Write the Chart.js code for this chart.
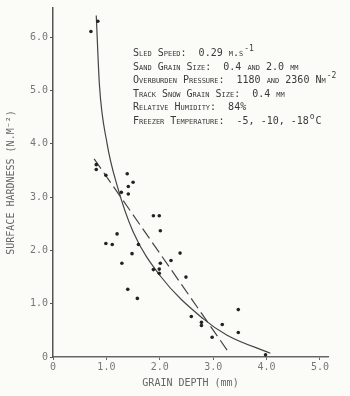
<!DOCTYPE html>
<html>
<head>
<meta charset="utf-8">
<script src="https://cdn.jsdelivr.net/npm/chart.js@4"></script>
<style>
  body { margin: 0; background: #fbfbf8; }
  canvas { display: block; }
</style>
</head>
<body>
<canvas id="hardnessChart" width="350" height="396"></canvas>
<script>
// Measured hardness values (grain depth in mm, hardness in N.m-2)
const depthPoints = [0.71, 0.84, 0.81, 0.81, 0.99, 1.39, 1.41, 1.50, 1.28, 1.41,
  1.88, 1.99, 2.01, 1.20, 0.99, 1.11, 1.60, 1.48, 1.29, 2.01, 2.21, 1.88, 1.99, 1.99,
  2.38, 1.40, 1.58, 2.49, 2.59, 2.78, 2.78, 3.17, 3.47, 3.47, 2.98, 3.98];
const hardnessPoints = [6.11, 6.30, 3.61, 3.52, 3.41, 3.44, 3.20, 3.28, 3.09, 3.06,
  2.65, 2.65, 2.37, 2.31, 2.13, 2.11, 2.11, 1.94, 1.76, 1.76, 1.81, 1.64, 1.65, 1.57,
  1.95, 1.27, 1.10, 1.50, 0.76, 0.65, 0.59, 0.61, 0.89, 0.46, 0.37, 0.04];

// Fitted curve
const curveDepth = [0.81, 0.87, 1.01, 1.20, 1.50, 2.01, 2.81, 3.26, 4.07];
const curveHardness = [6.41, 5.10, 4.02, 3.22, 2.35, 1.52, 0.72, 0.41, 0.07];

// Straight dashed fit
const lineDepth = [0.77, 3.26];
const lineHardness = [3.72, 0.13];

// Axis ticks
const xTicks = [0, 1, 2, 3, 4, 5];
const yTicks = [0, 1, 2, 3, 4, 5, 6];

// Test conditions text block: [main text, superscript, tail]
const conditionLines = [
  ['Sled Speed:  0.29 m.s', '-1', ''],
  ['Sand Grain Size:  0.4 and 2.0 mm', '', ''],
  ['Overburden Pressure:  1180 and 2360 Nm', '-2', ''],
  ['Track Snow Grain Size:  0.4 mm', '', ''],
  ['Relative Humidity:  84%', '', ''],
  ['Freezer Temperature:  -5, -10, -18', 'o', 'C']
];

const toXY = (xs, ys) => xs.map((x, i) => ({ x: x, y: ys[i] }));

const monoFont = "'DejaVu Sans Mono', monospace";

// Plugin that writes the conditions block in the upper right
const conditionsText = {
  id: 'conditionsText',
  afterDatasetsDraw(chart) {
    const c = chart.ctx;
    c.save();
    c.fillStyle = '#3a3a3a';
    c.textBaseline = 'alphabetic';
    let y = 56;
    conditionLines.forEach(line => {
      let x = 133;
      c.font = 'small-caps 10px ' + monoFont;
      c.fillText(line[0], x, y);
      x += c.measureText(line[0]).width + 1;
      if (line[1]) {
        c.font = '8px ' + monoFont;
        c.fillText(line[1], x, y - 5);
        x += c.measureText(line[1]).width + 1;
      }
      if (line[2]) {
        c.font = 'small-caps 10px ' + monoFont;
        c.fillText(line[2], x, y);
      }
      y += 13.5;
    });
    c.restore();
  }
};

const ctx = document.getElementById('hardnessChart').getContext('2d');

new Chart(ctx, {
  type: 'scatter',
  data: {
    datasets: [
      {
        data: toXY(depthPoints, hardnessPoints),
        pointRadius: 1.8,
        pointBackgroundColor: '#222',
        pointBorderWidth: 0,
        showLine: false,
        clip: false
      },
      {
        data: toXY(curveDepth, curveHardness),
        showLine: true,
        pointRadius: 0,
        borderColor: '#444',
        borderWidth: 1.2,
        cubicInterpolationMode: 'monotone',
        clip: false
      },
      {
        data: toXY(lineDepth, lineHardness),
        showLine: true,
        pointRadius: 0,
        borderColor: '#444',
        borderWidth: 1.2,
        borderDash: [12, 5]
      }
    ]
  },
  options: {
    responsive: false,
    animation: false,
    devicePixelRatio: 1,
    layout: { padding: { left: 0, top: 3, right: 22, bottom: 0 } },
    plugins: {
      legend: { display: false },
      tooltip: { enabled: false }
    },
    scales: {
      x: {
        type: 'linear',
        min: 0,
        max: 5.15,
        afterFit: scale => { scale.height = 39; },
        afterBuildTicks: scale => { scale.ticks = xTicks.map(v => ({ value: v })); },
        ticks: {
          padding: 1,
          color: '#777',
          font: { family: monoFont, size: 10 },
          callback: v => v === 0 ? '0' : v.toFixed(1)
        },
        grid: { drawOnChartArea: false, tickLength: 3, color: '#666' },
        border: { color: '#666', width: 1.5 },
        title: {
          display: true,
          text: 'GRAIN DEPTH (mm)',
          color: '#666',
          font: { family: monoFont, size: 10, style: 'small-caps' },
          padding: { top: 0, bottom: 7 }
        }
      },
      y: {
        min: 0,
        max: 6.55,
        afterFit: scale => { scale.width = 53; },
        afterBuildTicks: scale => { scale.ticks = yTicks.map(v => ({ value: v })); },
        ticks: {
          padding: 2,
          color: '#777',
          font: { family: monoFont, size: 10 },
          callback: v => v === 0 ? '0' : v.toFixed(1)
        },
        grid: { drawOnChartArea: false, tickLength: 3, color: '#555' },
        border: { color: '#555', width: 1.5 },
        title: {
          display: true,
          text: 'SURFACE HARDNESS (N.M\u207B\u00B2)',
          color: '#666',
          font: { family: monoFont, size: 10 },
          padding: { top: 5, bottom: 0 }
        }
      }
    }
  },
  plugins: [conditionsText]
});
</script>
</body>
</html>
